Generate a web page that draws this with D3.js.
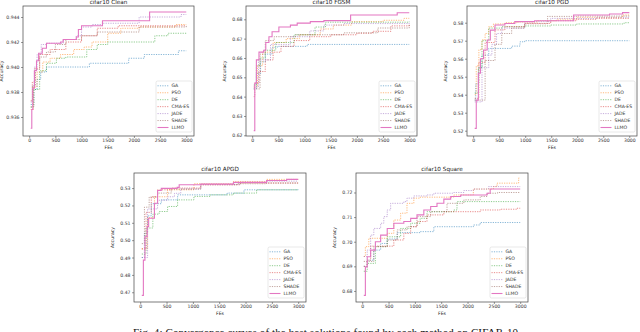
<!DOCTYPE html>
<html>
<head>
<meta charset="utf-8">
<script src="https://cdn.jsdelivr.net/npm/d3@7"></script>
<style>
  body { margin: 0; background: #fff; }
  svg { display: block; font-family: "DejaVu Sans", sans-serif; }
</style>
</head>
<body>
<svg id="chart" width="640" height="332"></svg>
<script>
// methods and their colours (matplotlib tab10)
const methods = ['GA', 'PSO', 'DE', 'CMA-ES', 'JADE', 'SHADE', 'LLMO'];
const colors = ['#1f77b4', '#ff7f0e', '#2ca02c', '#d62728', '#9467bd', '#8c564b', '#e377c2'];
const feTicks = [0, 500, 1000, 1500, 2000, 2500, 3000];

// [FEs, accuracy] change points of each step curve
const clean = {
  'GA': [[30,0.9370],[90,0.9382],[150,0.9390],[220,0.9396],[330,0.9400],[1150,0.9403],[1900,0.9407],[2200,0.9410],[2850,0.9413],[3000,0.9413]],
  'PSO': [[30,0.9366],[80,0.9384],[150,0.9396],[260,0.9404],[400,0.9407],[600,0.9410],[850,0.9414],[1050,0.9416],[1200,0.9420],[1500,0.9427],[1750,0.9431],[2100,0.9432],[2800,0.9434],[3000,0.9434]],
  'DE': [[30,0.9368],[90,0.9382],[200,0.9397],[330,0.9403],[520,0.9407],[700,0.9408],[1100,0.9414],[1300,0.9418],[1500,0.9420],[2400,0.9425],[2650,0.9427],[3000,0.9427]],
  'CMA-ES': [[30,0.9373],[60,0.9388],[110,0.9399],[200,0.9410],[400,0.9414],[700,0.9420],[1000,0.9425],[1300,0.9431],[1700,0.9433],[3000,0.9433]],
  'JADE': [[30,0.9372],[60,0.9385],[100,0.9400],[150,0.9410],[230,0.9418],[330,0.9419],[650,0.9422],[900,0.9425],[1000,0.9432],[1200,0.9434],[1400,0.9435],[2100,0.9440],[2900,0.9442],[3000,0.9442]],
  'SHADE': [[30,0.9368],[70,0.9385],[120,0.9398],[200,0.9408],[330,0.9412],[500,0.9418],[700,0.9422],[1000,0.9425],[1300,0.9428],[2100,0.9432],[3000,0.9433]],
  'LLMO': [[30,0.9351],[50,0.9366],[70,0.9383],[100,0.9397],[140,0.9405],[180,0.9411],[250,0.9415],[330,0.9419],[600,0.9420],[650,0.9422],[900,0.9424],[940,0.9430],[1000,0.9433],[1400,0.9437],[2300,0.9444],[3000,0.9444]]
};

const fgsm = {
  'GA': [[30,0.6440],[80,0.6520],[160,0.6580],[250,0.6620],[380,0.6655],[480,0.6660],[1050,0.6670],[3000,0.6670]],
  'PSO': [[30,0.6450],[100,0.6560],[200,0.6630],[400,0.6680],[650,0.6700],[900,0.6720],[1300,0.6750],[1550,0.6770],[1900,0.6788],[2500,0.6795],[2900,0.6805],[3000,0.6805]],
  'DE': [[30,0.6460],[80,0.6560],[150,0.6600],[250,0.6640],[450,0.6680],[800,0.6720],[1200,0.6760],[1400,0.6785],[3000,0.6788]],
  'CMA-ES': [[30,0.6400],[50,0.6470],[130,0.6530],[250,0.6590],[400,0.6630],[550,0.6660],[800,0.6690],[1100,0.6710],[1500,0.6720],[2000,0.6728],[2300,0.6738],[2650,0.6766],[3000,0.6771]],
  'JADE': [[30,0.6450],[120,0.6590],[350,0.6670],[730,0.6710],[1100,0.6740],[1370,0.6770],[1750,0.6778],[3000,0.6788]],
  'SHADE': [[30,0.6440],[150,0.6620],[250,0.6690],[420,0.6710],[830,0.6720],[1750,0.6730],[2400,0.6755],[3000,0.6776]],
  'LLMO': [[30,0.6224],[50,0.6470],[80,0.6590],[130,0.6630],[220,0.6640],[260,0.6680],[320,0.6710],[380,0.6736],[510,0.6760],[730,0.6770],[860,0.6780],[1110,0.6788],[1370,0.6793],[1880,0.6822],[2770,0.6834],[3000,0.6834]]
};

const pgd = {
  'GA': [[30,0.5370],[50,0.5460],[110,0.5550],[170,0.5620],[300,0.5657],[740,0.5663],[750,0.5670],[900,0.5694],[990,0.5700],[3000,0.5700]],
  'PSO': [[30,0.5400],[60,0.5560],[110,0.5650],[170,0.5705],[230,0.5740],[300,0.5778],[390,0.5793],[610,0.5800],[860,0.5804],[1240,0.5811],[1610,0.5820],[1990,0.5830],[2870,0.5843],[3000,0.5843]],
  'DE': [[30,0.5410],[100,0.5550],[170,0.5700],[300,0.5770],[550,0.5778],[990,0.5782],[1490,0.5787],[1990,0.5793],[2900,0.5800],[3000,0.5800]],
  'CMA-ES': [[30,0.5380],[110,0.5580],[230,0.5690],[420,0.5760],[610,0.5778],[990,0.5796],[1490,0.5811],[1990,0.5819],[2370,0.5824],[3000,0.5824]],
  'JADE': [[30,0.5360],[170,0.5550],[300,0.5620],[360,0.5680],[450,0.5740],[550,0.5770],[990,0.5806],[1490,0.5824],[2370,0.5830],[3000,0.5830]],
  'SHADE': [[30,0.5370],[230,0.5590],[420,0.5680],[550,0.5740],[740,0.5770],[990,0.5794],[1430,0.5835],[1990,0.5837],[3000,0.5837]],
  'LLMO': [[30,0.5213],[60,0.5370],[100,0.5519],[140,0.5600],[200,0.5648],[270,0.5704],[330,0.5759],[420,0.5787],[610,0.5796],[800,0.5806],[1180,0.5811],[1930,0.5843],[2620,0.5848],[2870,0.5856],[3000,0.5856]]
};

const apgd = {
  'GA': [[30,0.4900],[80,0.5040],[140,0.5140],[210,0.5210],[400,0.5232],[710,0.5261],[1650,0.5271],[1970,0.5290],[3000,0.5294]],
  'PSO': [[30,0.4950],[140,0.5130],[270,0.5250],[520,0.5290],[1020,0.5325],[1770,0.5338],[2400,0.5350],[3000,0.5350]],
  'DE': [[30,0.4920],[110,0.5070],[240,0.5150],[360,0.5165],[520,0.5194],[710,0.5232],[1020,0.5252],[1330,0.5261],[1770,0.5271],[2210,0.5290],[3000,0.5290]],
  'CMA-ES': [[30,0.4950],[110,0.5160],[210,0.5250],[330,0.5290],[590,0.5300],[1150,0.5319],[1900,0.5329],[3000,0.5333]],
  'JADE': [[30,0.4900],[140,0.5180],[330,0.5230],[520,0.5250],[650,0.5270],[770,0.5295],[1150,0.5322],[1900,0.5333],[2400,0.5340],[3000,0.5340]],
  'SHADE': [[30,0.4980],[80,0.5190],[170,0.5248],[330,0.5271],[590,0.5294],[1150,0.5319],[1840,0.5325],[2400,0.5329],[3000,0.5329]],
  'LLMO': [[30,0.4682],[60,0.4885],[90,0.5020],[130,0.5078],[160,0.5126],[250,0.5126],[270,0.5213],[330,0.5286],[400,0.5298],[700,0.5304],[740,0.5319],[1150,0.5323],[1770,0.5333],[2400,0.5344],[2780,0.5350],[3000,0.5350]]
};

const square = {
  'GA': [[30,0.6900],[95,0.6925],[220,0.6966],[350,0.6993],[475,0.7011],[665,0.7037],[1100,0.7041],[1360,0.7061],[2110,0.7068],[2240,0.7078],[3000,0.7078]],
  'PSO': [[30,0.6940],[60,0.6980],[125,0.7014],[475,0.7034],[600,0.7088],[730,0.7116],[850,0.7156],[980,0.7177],[1100,0.7181],[1740,0.7190],[2110,0.7214],[2490,0.7224],[2560,0.7238],[2970,0.7259],[3000,0.7259]],
  'DE': [[30,0.6880],[95,0.6912],[250,0.6980],[475,0.7020],[730,0.7054],[920,0.7075],[1100,0.7095],[1230,0.7122],[1740,0.7129],[1800,0.7163],[3000,0.7163]],
  'CMA-ES': [[30,0.6900],[95,0.6925],[160,0.6982],[600,0.7007],[790,0.7034],[920,0.7061],[1040,0.7082],[1230,0.7109],[1550,0.7122],[2240,0.7129],[2620,0.7132],[2940,0.7136],[3000,0.7136]],
  'JADE': [[30,0.6940],[95,0.6966],[160,0.7027],[220,0.7054],[350,0.7075],[410,0.7102],[475,0.7129],[540,0.7156],[790,0.7163],[850,0.7177],[980,0.7186],[1230,0.7190],[1360,0.7197],[1740,0.7200],[1930,0.7208],[2110,0.7214],[2400,0.7224],[3000,0.7224]],
  'SHADE': [[30,0.6920],[220,0.6980],[475,0.7007],[665,0.7048],[850,0.7061],[1040,0.7102],[1300,0.7122],[1610,0.7156],[1930,0.7170],[2240,0.7184],[2370,0.7197],[2570,0.7200],[3000,0.7200]],
  'LLMO': [[30,0.6782],[60,0.6898],[95,0.6939],[160,0.6966],[250,0.7000],[350,0.7027],[475,0.7054],[600,0.7075],[790,0.7082],[920,0.7095],[1040,0.7109],[1170,0.7129],[1300,0.7143],[1420,0.7156],[1550,0.7173],[1680,0.7184],[1870,0.7190],[2370,0.7197],[2430,0.7214],[3000,0.7214]]
};

const cleanTicks = [0.936, 0.938, 0.940, 0.942, 0.944];
const fgsmTicks = [0.62, 0.63, 0.64, 0.65, 0.66, 0.67, 0.68];
const pgdTicks = [0.52, 0.53, 0.54, 0.55, 0.56, 0.57, 0.58];
const apgdTicks = [0.47, 0.48, 0.49, 0.50, 0.51, 0.52, 0.53];
const squareTicks = [0.68, 0.69, 0.70, 0.71, 0.72];

const caption = 'Fig. 4: Convergence curves of the best solutions found by each method on CIFAR-10';

const panels = [
  { title: 'cifar10 Clean',  data: clean,  ticks: cleanTicks,  fmt: '.3f', yDomain: [0.93448, 0.94488], box: [23, 6, 171, 130] },
  { title: 'cifar10 FGSM',   data: fgsm,   ticks: fgsmTicks,   fmt: '.2f', yDomain: [0.61964, 0.68688], box: [246, 6, 171, 130] },
  { title: 'cifar10 PGD',    data: pgd,    ticks: pgdTicks,    fmt: '.2f', yDomain: [0.51706, 0.58928], box: [467, 6, 170, 130] },
  { title: 'cifar10 APGD',   data: apgd,   ticks: apgdTicks,   fmt: '.2f', yDomain: [0.46439, 0.53868], box: [134, 173, 172, 129] },
  { title: 'cifar10 Square', data: square, ticks: squareTicks, fmt: '.2f', yDomain: [0.67551, 0.72792], box: [356, 173, 172, 129] }
];

const svg = d3.select('#chart');
svg.append('rect').attr('width', 640).attr('height', 332).attr('fill', '#fff');

const tickFont = 4.6;

panels.forEach((p, pi) => {
  const [left, top, w, h] = p.box;
  const g = svg.append('g').attr('transform', 'translate(' + left + ',' + top + ')');

  const x = d3.scaleLinear().domain([-118, 3148]).range([0, w]);
  const y = d3.scaleLinear().domain(p.yDomain).range([h, 0]);

  g.append('clipPath').attr('id', 'clip' + pi)
    .append('rect').attr('width', w).attr('height', h);

  const line = d3.line()
    .curve(d3.curveStepAfter)
    .x((d) => { return x(d[0]); })
    .y((d) => { return y(d[1]); });

  const lines = g.append('g').attr('clip-path', 'url(#clip' + pi + ')');
  methods.forEach((m, i) => {
    const solid = m === 'LLMO';
    lines.append('path')
      .datum(p.data[m])
      .attr('d', line)
      .attr('fill', 'none')
      .attr('stroke', colors[i])
      .attr('stroke-width', solid ? 1.1 : 0.9)
      .attr('stroke-opacity', solid ? 1 : 0.6)
      .attr('stroke-dasharray', solid ? 'none' : '1.2,1.2');
  });

  // axes
  const xAxis = d3.axisBottom(x).tickValues(feTicks).tickSize(2).tickPadding(1).tickFormat(d3.format('d'));
  const yAxis = d3.axisLeft(y).tickValues(p.ticks).tickSize(2).tickPadding(1.5).tickFormat(d3.format(p.fmt));

  const xg = g.append('g').attr('transform', 'translate(0,' + h + ')').call(xAxis);
  const yg = g.append('g').call(yAxis);
  [xg, yg].forEach((a) => {
    a.select('.domain').remove();
    a.selectAll('line').attr('stroke', '#333').attr('stroke-width', 0.5);
    a.selectAll('text').attr('fill', '#333').style('font-size', tickFont + 'px')
      .style('font-family', '"DejaVu Sans", sans-serif');
  });

  g.append('rect').attr('width', w).attr('height', h)
    .attr('fill', 'none').attr('stroke', '#444').attr('stroke-width', 0.7);

  // labels
  g.append('text').attr('x', w / 2).attr('y', -2)
    .attr('text-anchor', 'middle').attr('fill', '#222')
    .style('font-size', '5.7px').text(p.title);
  g.append('text').attr('x', w / 2).attr('y', h + 12.5)
    .attr('text-anchor', 'middle').attr('fill', '#222')
    .style('font-size', tickFont + 'px').text('FEs');
  g.append('text').attr('transform', 'translate(-20,' + (h / 2) + ') rotate(-90)')
    .attr('text-anchor', 'middle').attr('fill', '#222')
    .style('font-size', tickFont + 'px').text('Accuracy');

  // legend, lower right
  const lw = 36, lh = 51;
  const lg = g.append('g').attr('transform', 'translate(' + (w - lw - 2) + ',' + (h - lh - 4) + ')');
  lg.append('rect').attr('width', lw).attr('height', lh).attr('rx', 1.5)
    .attr('fill', '#fff').attr('fill-opacity', 0.8)
    .attr('stroke', '#d0d0d0').attr('stroke-width', 0.5);
  methods.forEach((m, i) => {
    const ly = 4.8 + i * 6.95;
    const solid = m === 'LLMO';
    lg.append('line')
      .attr('x1', 1.5).attr('x2', 12.5).attr('y1', ly).attr('y2', ly)
      .attr('stroke', colors[i])
      .attr('stroke-width', solid ? 1.1 : 0.9)
      .attr('stroke-opacity', solid ? 1 : 0.6)
      .attr('stroke-dasharray', solid ? 'none' : '1.2,1.2');
    lg.append('text').attr('x', 15.5).attr('y', ly + 1.6)
      .attr('fill', '#333').style('font-size', tickFont + 'px').text(m);
  });
});

// figure caption, cut by the bottom edge as in the source figure
svg.append('text')
  .attr('x', 133).attr('y', 336)
  .attr('textLength', 385).attr('lengthAdjust', 'spacing')
  .attr('fill', '#111')
  .style('font-family', '"Liberation Serif", serif')
  .style('font-size', '11px')
  .text(caption);
</script>
</body>
</html>
